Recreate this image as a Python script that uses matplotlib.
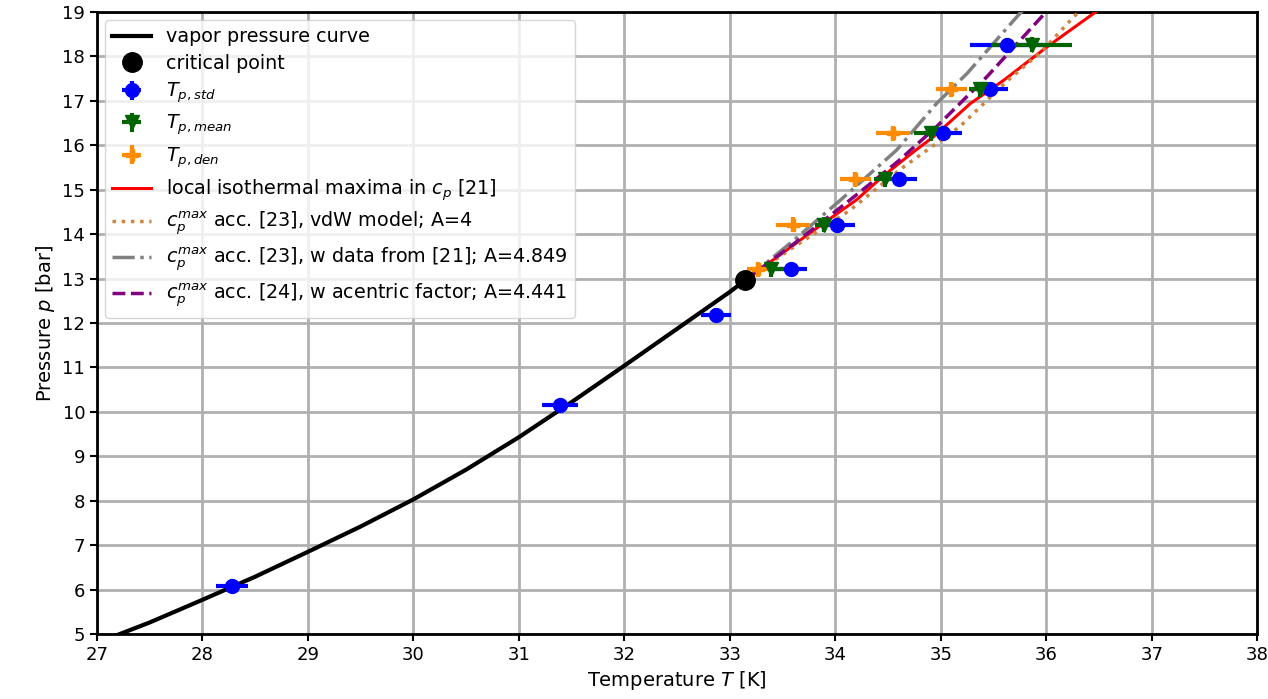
import numpy as np
import matplotlib
matplotlib.use("Agg")
import matplotlib.pyplot as plt

# vapor pressure curve (T in K, p in bar)
vp_T = [27.0, 27.5, 28.0, 28.5, 29.0, 29.5, 30.0, 30.5, 31.0, 31.5, 32.0, 32.5, 33.0, 33.145]
vp_p = [4.80, 5.26, 5.77, 6.29, 6.85, 7.42, 8.03, 8.70, 9.43, 10.22, 11.04, 11.87, 12.70, 12.964]

# critical point
crit_T = [33.145]
crit_p = [12.964]

# T_p,std
std_T = [28.28, 31.39, 32.87, 33.58, 34.02, 34.60, 35.02, 35.47, 35.63]
std_p = [6.08, 10.15, 12.18, 13.21, 14.21, 15.24, 16.27, 17.26, 18.26]
std_err = [0.15, 0.17, 0.14, 0.15, 0.17, 0.17, 0.18, 0.17, 0.35]

# T_p,mean
mean_T = [33.39, 33.89, 34.47, 34.91, 35.37, 35.86]
mean_p = [13.21, 14.21, 15.24, 16.27, 17.26, 18.26]
mean_err = [0.12, 0.08, 0.10, 0.16, 0.10, 0.38]

# T_p,den
den_T = [33.27, 33.60, 34.19, 34.55, 35.10]
den_p = [13.21, 14.21, 15.24, 16.27, 17.26]
den_err = [0.11, 0.16, 0.15, 0.16, 0.15]

# local isothermal maxima in c_p
red_T = [33.145, 33.41, 33.89, 34.20, 34.45, 34.74, 34.93, 35.28, 35.60, 36.01, 36.45, 36.55]
red_p = [12.964, 13.42, 14.25, 14.77, 15.30, 15.85, 16.19, 16.94, 17.47, 18.22, 18.97, 19.15]

# c_p^max vdW model, A=4
vdw_T = [33.145, 33.6, 34.14, 34.61, 35.18, 35.63, 35.95, 36.26, 36.35]
vdw_p = [12.964, 13.70, 14.54, 15.45, 16.42, 17.45, 18.10, 18.89, 19.10]

# c_p^max with data from [21], A=4.849
gry_T = [33.145, 33.6, 34.05, 34.58, 34.96, 35.25, 35.75, 35.85]
gry_p = [12.964, 13.85, 14.77, 15.89, 16.94, 17.62, 18.97, 19.20]

# c_p^max acentric factor, A=4.441
pur_T = [33.145, 33.6, 34.14, 34.6, 34.96, 35.44, 35.97, 36.05]
pur_p = [12.964, 13.77, 14.77, 15.65, 16.42, 17.55, 18.93, 19.15]

fig = plt.figure(figsize=(12.68, 6.99), dpi=100)
ax = fig.add_axes([0.0765, 0.093, 0.915, 0.8898])

h_vp, = ax.plot(vp_T, vp_p, color="black", lw=3, zorder=3)
h_red, = ax.plot(red_T, red_p, color="red", lw=2.2, zorder=3)
h_vdw, = ax.plot(vdw_T, vdw_p, color="peru", lw=2.5, ls=":", zorder=3)
h_gry, = ax.plot(gry_T, gry_p, color="gray", lw=2.5, ls="-.", zorder=3)
h_pur, = ax.plot(pur_T, pur_p, color="purple", lw=2.5, ls="--", zorder=3)

h_std = ax.errorbar(std_T, std_p, xerr=std_err, yerr=0.15, fmt="o", color="blue",
                    ms=10, elinewidth=3, zorder=4)
h_mean = ax.errorbar(mean_T, mean_p, xerr=mean_err, yerr=0.17, fmt="v", color="darkgreen",
                     ms=10, elinewidth=3, zorder=4)
h_den = ax.errorbar(den_T, den_p, xerr=den_err, yerr=0.17, fmt="P", color="darkorange",
                    ms=8, elinewidth=3, zorder=4)
h_crit, = ax.plot(crit_T, crit_p, "o", color="black", ms=14, zorder=5)

ax.set_xlim(27, 38)
ax.set_ylim(5, 19)
ax.set_xticks(np.arange(27, 39, 1))
ax.set_yticks(np.arange(5, 20, 1))
ax.tick_params(labelsize=13, width=1.5, length=5)
ax.grid(True, color="#b0b0b0", lw=2)
for s in ax.spines.values():
    s.set_linewidth(2)

ax.set_xlabel(r"Temperature $T$ [K]", fontsize=14)
ax.set_ylabel(r"Pressure $p$ [bar]", fontsize=14)

handles = [h_vp, h_crit, h_std, h_mean, h_den, h_red, h_vdw, h_gry, h_pur]
labels = ["vapor pressure curve", "critical point", r"$T_{p,std}$", r"$T_{p,mean}$",
          r"$T_{p,den}$", r"local isothermal maxima in $c_p$ [21]",
          r"$c_p^{max}$ acc. [23], vdW model; A=4",
          r"$c_p^{max}$ acc. [23], w data from [21]; A=4.849",
          r"$c_p^{max}$ acc. [24], w acentric factor; A=4.441"]
ax.legend(handles, labels, loc="upper left", fontsize=13.8, borderaxespad=0.4,
          labelspacing=0.4)

fig.savefig("out.png", dpi=100)
